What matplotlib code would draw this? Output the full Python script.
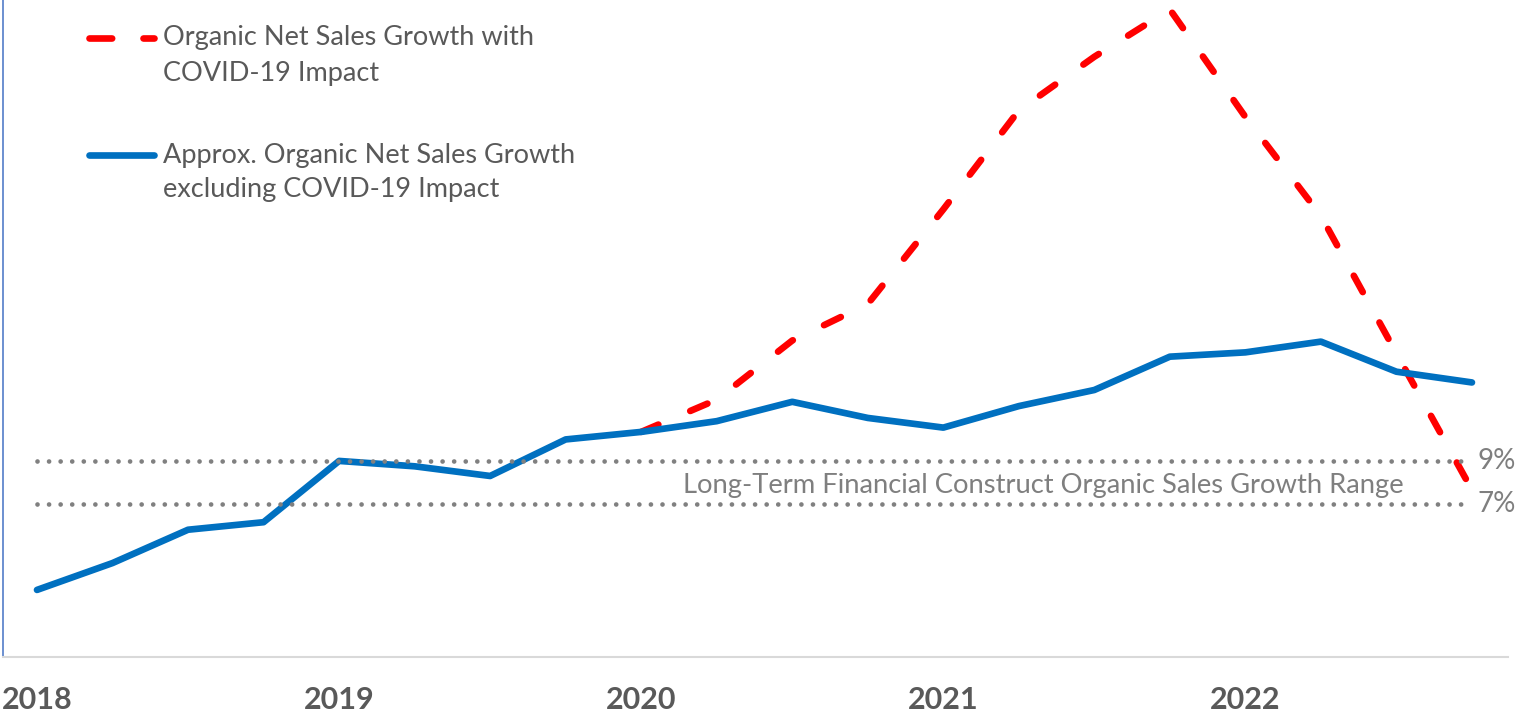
import numpy as np
import matplotlib
matplotlib.use("Agg")
import matplotlib.pyplot as plt
from matplotlib.lines import Line2D

plt.rcParams['font.family'] = ['Lato', 'DejaVu Sans']

# Quarterly periods on the category axis
quarters = [
    "2018 Q1", "2018 Q2", "2018 Q3", "2018 Q4",
    "2019 Q1", "2019 Q2", "2019 Q3", "2019 Q4",
    "2020 Q1", "2020 Q2", "2020 Q3", "2020 Q4",
    "2021 Q1", "2021 Q2", "2021 Q3", "2021 Q4",
    "2022 Q1", "2022 Q2", "2022 Q3", "2022 Q4",
]
year_labels = ["2018", "2019", "2020", "2021", "2022"]

# Organic net sales growth (%), approximate, excluding COVID-19 impact
growth_ex_covid = [3.0, 4.25, 5.8, 6.15, 9.0, 8.75, 8.3, 10.0,
                   10.35, 10.85, 11.75, 11.0, 10.55, 11.55, 12.3, 13.85,
                   14.05, 14.55, 13.15, 12.65]

# Organic net sales growth (%) with COVID-19 impact, from 2020 Q1 onward
covid_start = "2020 Q1"
growth_with_covid = [10.35, 11.85, 14.6, 16.3, 20.7, 25.3, 27.8, 30.0,
                     25.0, 20.4, 14.0, 7.65]

# Long-term financial construct range (%)
range_high = 9
range_low = 7
range_label = "Long-Term Financial Construct Organic Sales Growth Range"

legend_with = ["Organic Net Sales Growth with", "COVID-19 Impact"]
legend_ex = ["Approx. Organic Net Sales Growth", "excluding COVID-19 Impact"]

W, H = 1517, 712
BLUE = "#0070C0"
RED = "#FF0000"
DOT = "#808080"
TXT = "#595959"
GRAY_TXT = "#7F7F7F"

fig = plt.figure(figsize=(W / 100, H / 100), dpi=100)
ax = fig.add_axes([3 / W, 55 / H, 1505 / W, 657 / H])

x = np.arange(len(quarters))
start = quarters.index(covid_start)
x_covid = x[start:start + len(growth_with_covid)]

lw = 4.8
ax.plot(x_covid, growth_with_covid, color=RED, lw=lw,
        linestyle=(0, (2.8, 5.2)), dash_capstyle="round",
        dash_joinstyle="round", zorder=3, clip_on=False)
ax.plot(x, growth_ex_covid, color=BLUE, lw=lw, solid_capstyle="round",
        solid_joinstyle="round", zorder=4)

# Dotted range bounds
dot_style = dict(color=DOT, lw=3.4, linestyle=(0, (0.001, 2.45)),
                 dash_capstyle="round", zorder=5)
for level in (range_high, range_low):
    ax.plot([x[0], x[-1] - 0.12], [level, level], **dot_style)
    ax.text(x[-1] + 0.07, level, f"{level}%", color=GRAY_TXT, fontsize=20,
            va="center", ha="left")

ax.text(0.6914, 7.85, range_label, transform=ax.get_yaxis_transform(),
        color=GRAY_TXT, fontsize=19.7, ha="center", va="center")

ax.set_xlim(-0.45, len(quarters) - 1 + 0.477)
ax.set_ylim(-0.12, 30.44)

year_pos = [quarters.index(f"{y} Q1") for y in year_labels]
ax.set_xticks(year_pos)
ax.set_xticklabels(year_labels, fontsize=22, fontweight="bold", color=TXT)
ax.tick_params(axis="x", length=0, pad=21)
ax.set_yticks([])

for side in ("top", "right"):
    ax.spines[side].set_visible(False)
ax.spines["left"].set_color("#4472C4")
ax.spines["left"].set_linewidth(1.1)
ax.spines["bottom"].set_color("#D9D9D9")
ax.spines["bottom"].set_linewidth(1.5)

# Legend drawn in pixel space
lax = fig.add_axes([0, 0, 1, 1])
lax.set_xlim(0, W)
lax.set_ylim(H, 0)
lax.axis("off")
lax.add_line(Line2D([89, 154], [38, 38], color=RED, lw=lw,
                    linestyle=(0, (3.4, 4.7)), dash_capstyle="round"))
lax.add_line(Line2D([89, 154], [155, 155], color=BLUE, lw=lw,
                    solid_capstyle="round"))
for i, line in enumerate(legend_with):
    lax.text(163, 38 + 35 * i, line, fontsize=19.5, color=TXT, va="center")
for i, line in enumerate(legend_ex):
    lax.text(163, 155 + 35 * i, line, fontsize=19.5, color=TXT, va="center")

fig.savefig("out.png", dpi=100, facecolor="white")
